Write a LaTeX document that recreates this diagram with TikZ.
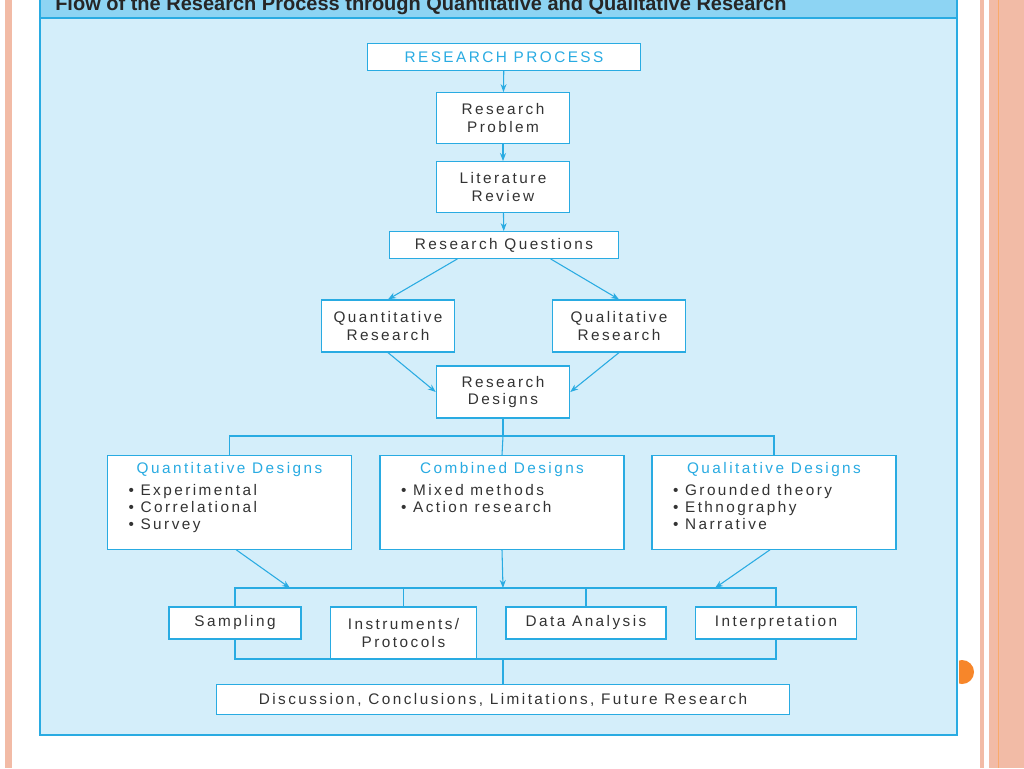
\documentclass[tikz,border=0pt]{standalone}
\usepackage{fontspec}
\setmainfont[LetterSpace=16]{Liberation Sans}
\newfontfamily\titlefont{Liberation Sans}
\usepackage{xcolor}
\usetikzlibrary{arrows.meta,positioning}
\definecolor{panelblue}{HTML}{D4EEFA}
\definecolor{headblue}{HTML}{8DD4F3}
\definecolor{lineblue}{HTML}{29ABE2}
\definecolor{salmon}{HTML}{F2BBA6}
\definecolor{dotorange}{HTML}{F7862A}

\begin{document}
\begin{tikzpicture}
    [   x = 0.75pt
    ,   y = -0.75pt
    ,   box/.style=
        {   draw = lineblue
        ,   fill = white
        ,   line width = 0.9pt
        ,   align = center
        ,   inner sep = 0pt
        ,   node font = \fontsize{11.5}{12.8}\selectfont
        ,   text = black!80
        }
    ,   design/.style=
        {   box
        ,   minimum width = 183pt
        ,   minimum height = 70pt
        }
    ,   link/.style = {draw = lineblue, line width = 0.8pt}
    ,   > = {Stealth[length=6pt,width=4.5pt]}
    ]
    \useasboundingbox (0,0) rectangle (1024,768);
    % slide decoration
    \fill[white] (0,0) rectangle (1024,768);
    \fill[salmon] (5,0) rectangle (12,768);
    \fill[salmon] (980,0) rectangle (1024,768);
    \fill[white] (984,0) rectangle (989,768);
    \draw[dotorange!70, line width = 0.6pt] (998,0) -- (998,768);
    \begin{scope}
        \clip (959,650) rectangle (980,700);
        \fill[dotorange] (962,672) circle (12);
    \end{scope}
    % panel
    \fill[panelblue] (40,0) rectangle (957,735);
    \fill[headblue] (40,0) rectangle (957,18);
    \draw[lineblue, line width = 1.5pt] (40,-2) rectangle (957,735);
    \draw[lineblue, line width = 1pt] (40,18) -- (957,18);
    \node[anchor = west, inner sep = 0pt, font = \titlefont\bfseries\fontsize{15}{16}\selectfont, text = black!85] (title) at (55,5)
        {Flow of the Research Process through Quantitative and Qualitative Research};
    % boxes
    \node[box, minimum width = 205pt, minimum height = 20pt, text = lineblue] (proc) at (504,57) {RESEARCH PROCESS};
    \node[box, minimum width = 100pt, minimum height = 38pt] (prob) at (503,118) {Research\\Problem};
    \node[box, minimum width = 100pt, minimum height = 38pt] (lit) at (503,187) {Literature\\Review};
    \node[box, minimum width = 172pt, minimum height = 20pt] (quest) at (504,245) {Research Questions};
    \node[box, minimum width = 100pt, minimum height = 39pt] (quan) at (388,326) {Quantitative\\Research};
    \node[box, minimum width = 100pt, minimum height = 39pt] (qual) at (619,326) {Qualitative\\Research};
    \node[box, minimum width = 100pt, minimum height = 39pt] (des) at (503,392) {Research\\Designs};
    \node[design] (dquan) at (229.5,502.5) {};
    \node[design] (dcomb) at (502,502.5) {};
    \node[design] (dqual) at (774,502.5) {};
    \foreach \d/\head/\items in
        {dquan/Quantitative Designs/{Experimental\\• Correlational\\• Survey},
         dcomb/Combined Designs/{Mixed methods\\• Action research},
         dqual/Qualitative Designs/{Grounded theory\\• Ethnography\\• Narrative}}
    {
        \node[font = \fontsize{11.5}{12.8}\selectfont, text = lineblue] (\d-head) at ([yshift=-11pt]\d.north) {\head};
        \node[anchor = north west, align = left, inner sep = 0pt,
              font = \fontsize{11.5}{12.75}\selectfont, text = black!80] (\d-list)
            at ([xshift=16pt, yshift=-22pt]\d.north west) {• \items};
    }
    \node[box, minimum width = 99pt, minimum height = 24pt] (samp) at (235,623) {Sampling};
    \node[box, minimum width = 109pt, minimum height = 39pt] (inst) at (403.5,633) {Instruments/\\Protocols};
    \node[box, minimum width = 120pt, minimum height = 24pt] (data) at (586,623) {Data Analysis};
    \node[box, minimum width = 121pt, minimum height = 24pt] (interp) at (776,623) {Interpretation};
    \node[box, minimum width = 430pt, minimum height = 23pt] (disc) at (503,699.5) {Discussion, Conclusions, Limitations, Future Research};
    % connectors
    \coordinate (busA) at (503,436);
    \coordinate (busB) at (503,588);
    \coordinate (busC) at (503,659);
    \draw[link, ->] (proc) -- (prob);
    \draw[link, ->] (prob) -- (lit);
    \draw[link, ->] (lit) -- (quest);
    \draw[link, ->] ([xshift=-35pt]quest.south) -- (quan.north);
    \draw[link, ->] ([xshift=35pt]quest.south) -- (qual.north);
    \draw[link, ->] (quan.south) -- (des.west);
    \draw[link, ->] (qual.south) -- (des.east);
    \draw[link] (des) -- (busA);
    \draw[link] (dquan.north) |- (busA) -| (dqual.north);
    \draw[link] (busA) -- (dcomb.north);
    \draw[link, ->] ([xshift=5pt]dquan.south) -- (290,588);
    \draw[link, ->] (dcomb.south) -- (busB);
    \draw[link, ->] ([xshift=-3pt]dqual.south) -- (715,588);
    \draw[link] (samp.north) |- (busB) -| (interp.north);
    \draw[link] (inst.north) -- (inst.north |- busB);
    \draw[link] (data.north) -- (data.north |- busB);
    \draw[link] (samp.south) |- (busC) -| (interp.south);
    \draw[link] (busC) -- (disc.north);
\end{tikzpicture}
\end{document}
